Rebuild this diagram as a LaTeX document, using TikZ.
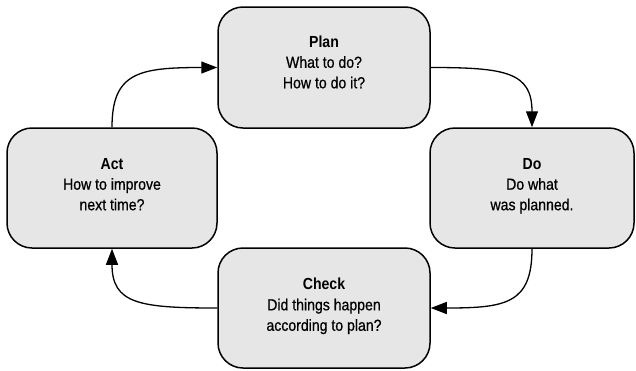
\documentclass[tikz,border=0pt]{standalone}
\usepackage{fontspec}
\setmainfont{Liberation Sans}[FakeStretch=0.88,UprightFeatures={FakeBold=0.6}]
\usetikzlibrary{arrows.meta}
\definecolor{boxgray}{HTML}{E6E6E6}
\begin{document}
\begin{tikzpicture}[x=1pt,y=-1pt,
  stagebox/.style={draw=black, line width=1.5pt, fill=boxgray, rounded corners=25pt, inner sep=0pt},
  stagetext/.style={anchor=north, align=center, inner sep=0pt, font=\fontsize{16}{20.5}\selectfont},
  conn/.style={line width=1.3pt, -{Triangle[length=16pt,width=12pt]}}]
\useasboundingbox (0,0) rectangle (636,370);
\node[stagebox, minimum width=212pt, minimum height=121pt] (plan) at (324,67.5) {};
\node[stagebox, minimum width=210pt, minimum height=120pt] (act) at (112,188) {};
\node[stagebox, minimum width=204pt, minimum height=120pt] (do) at (532,188) {};
\node[stagebox, minimum width=212pt, minimum height=120pt] (check) at (324,308) {};
\node[stagetext] (planT) at (324,35.5) {\textbf{Plan}\\What to do?\\How to do it?};
\node[stagetext] (actT) at (112,158) {\textbf{Act}\\How to improve\\next time?};
\node[stagetext] (doT) at (532,158) {\textbf{Do}\\Do what\\was planned.};
\node[stagetext] (checkT) at (324,278) {\textbf{Check}\\Did things happen\\according to plan?};
\draw[conn] (act.north) .. controls +(0,-55) and +(-78,0) .. (plan.west);
\draw[conn] (plan.east) .. controls +(75,0) and +(0,-55) .. (do.north);
\draw[conn] (do.south) .. controls +(0,55) and +(75,0) .. (check.east);
\draw[conn] (check.west) .. controls +(-78,0) and +(0,55) .. (act.south);
\end{tikzpicture}
\end{document}
